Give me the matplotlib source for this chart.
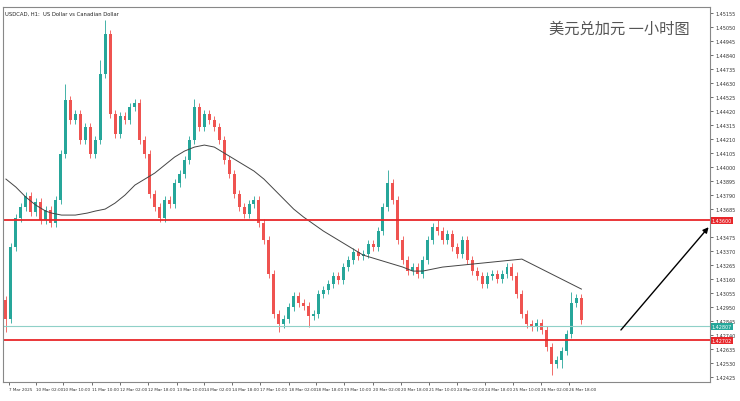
import matplotlib
matplotlib.use("Agg")
import matplotlib.pyplot as plt
import numpy as np

closes = [1.4286,1.4340,1.4362,1.4370,1.4378,1.4366,1.4374,1.4360,1.4368,1.4358,1.4375,1.4410,1.4450,1.4435,1.4440,1.4420,1.4430,1.4410,1.4420,1.4470,1.4500,1.4440,1.4425,1.4438,1.4435,1.4445,1.4448,1.4420,1.4410,1.4380,1.4370,1.4362,1.4375,1.4372,1.4388,1.4395,1.4405,1.4420,1.4445,1.4430,1.4440,1.4435,1.4430,1.4420,1.4405,1.4395,1.4380,1.4370,1.4365,1.4372,1.4375,1.4358,1.4345,1.4320,1.4290,1.4282,1.4286,1.4295,1.4303,1.4298,1.4296,1.4288,1.4290,1.4305,1.4308,1.4312,1.4318,1.4315,1.4325,1.4330,1.4336,1.4333,1.4335,1.4342,1.4340,1.4352,1.4370,1.4388,1.4375,1.4345,1.4330,1.4322,1.4325,1.4320,1.4330,1.4345,1.4355,1.4352,1.4345,1.4350,1.4340,1.4335,1.4345,1.4330,1.4322,1.4318,1.4312,1.4318,1.4320,1.4316,1.4320,1.4325,1.4318,1.4305,1.4290,1.4282,1.4280,1.4283,1.4278,1.4265,1.4252,1.4255,1.4262,1.4275,1.4298,1.4302,1.4285]
first_open = 1.4300
spikes_up = {12: 0.0012, 19: 0.0010, 20: 0.0010, 38: 0.0006, 77: 0.0010, 87: 0.0005, 114: 0.0008}
spikes_dn = {0: 0.0010, 55: 0.0006, 61: 0.0008, 110: 0.0008, 112: 0.0006}
ma_x = [0, 10, 20, 30, 40, 46, 56, 70, 82, 90, 100, 110, 120, 130, 140, 150, 160, 170, 180, 190, 200, 210, 220, 230, 240, 250, 260, 270, 280, 290, 300, 320, 340, 360, 380, 400, 410, 420, 440, 460, 480, 500, 520, 540, 560, 580]
ma_y = [180, 188, 198, 206, 212, 214, 216, 216, 214, 212, 210, 204, 196, 186, 180, 174, 166, 158, 152, 148, 146, 148, 154, 160, 166, 172, 180, 190, 200, 210, 218, 232, 244, 256, 262, 268, 272, 272, 268, 266, 264, 262, 260, 270, 280, 290]
ylev_red = [1.43600, 1.42702]
ylev_cur = 1.42807
xtick_px = [3, 30, 58, 87, 115, 143, 172, 200, 228, 256, 285, 313, 341, 370, 398, 426, 455, 483, 511, 539, 567]
xtick_labels = ["7 Mar 2025","10 Mar 02:00","10 Mar 10:00","11 Mar 10:00","12 Mar 02:00","12 Mar 18:00","13 Mar 10:00","14 Mar 02:00","14 Mar 18:00","17 Mar 10:00","18 Mar 02:00","18 Mar 18:00","19 Mar 10:00","20 Mar 02:00","20 Mar 18:00","21 Mar 10:00","24 Mar 02:00","24 Mar 18:00","25 Mar 10:00","26 Mar 02:00","26 Mar 18:00"]
ytick_vals = [round(1.42425 + k*0.00105, 5) for k in range(27)]

def px2p(y):
    return 1.45260 - 0.000075*y

fig = plt.figure(figsize=(7.4, 4.02), dpi=100)
ax = fig.add_axes([0.004, 0.047, 0.956, 0.933])
up_c, dn_c = "#26a69a", "#ef5350"
opens = [first_open] + closes[:-1]
for i, (o, c) in enumerate(zip(opens, closes)):
    col = up_c if c >= o else dn_c
    hi = max(o, c) + spikes_up.get(i, 0.0003)
    lo = min(o, c) - spikes_dn.get(i, 0.0003)
    ax.vlines(i, lo, hi, color=col, lw=0.6)
    ax.bar(i, max(abs(c-o), 0.00003), bottom=min(o, c), width=0.6, color=col, lw=0)
ax.plot(np.array(ma_x)/5, [px2p(v) for v in ma_y], color="#444444", lw=0.7)
for v in ylev_red:
    ax.axhline(v, color="#e8262a", lw=1.3)
ax.axhline(ylev_cur, color="#8fd0c8", lw=0.8)
ax.annotate("", xy=(142, px2p(226)), xytext=(123.6, px2p(333)),
            arrowprops=dict(arrowstyle="-|>", color="black", lw=1, mutation_scale=8))
ax.set_xlim(-0.6, 142)
ax.set_ylim(px2p(383), px2p(8))
ax.yaxis.tick_right()
ax.set_yticks(ytick_vals)
labels = []
for v in ytick_vals:
    near = any(abs(v - b) < 0.00035 for b in ylev_red + [ylev_cur])
    labels.append("" if near else f"{v:.5f}")
ax.set_yticklabels(labels, fontsize=3.5)
ax.set_xticks(np.array(xtick_px)/5)
ax.set_xticklabels(xtick_labels, fontsize=3.0, ha="left")
ax.tick_params(length=2, width=0.5, pad=1.5, colors="#333333")
for s in ax.spines.values():
    s.set_color("#888888"); s.set_linewidth(0.8)
for v, c in [(ylev_red[0], "#e8262a"), (ylev_red[1], "#e8262a"), (ylev_cur, "#26a69a")]:
    ax.text(1.002, v, f"{v:.5f}", transform=ax.get_yaxis_transform(), fontsize=3.5,
            color="white", va="center", ha="left",
            bbox=dict(boxstyle="square,pad=0.2", fc=c, ec="none"))
ax.text(0.003, 0.99, "USDCAD, H1:  US Dollar vs Canadian Dollar", transform=ax.transAxes,
        fontsize=3.8, va="top", color="#222222")
ax.text(0.97, 0.965, "美元兑加元 一小时图", transform=ax.transAxes, fontsize=11,
        va="top", ha="right", color="#555555", family=["Noto Sans CJK SC", "DejaVu Sans"])
fig.savefig("out.png", dpi=100)
